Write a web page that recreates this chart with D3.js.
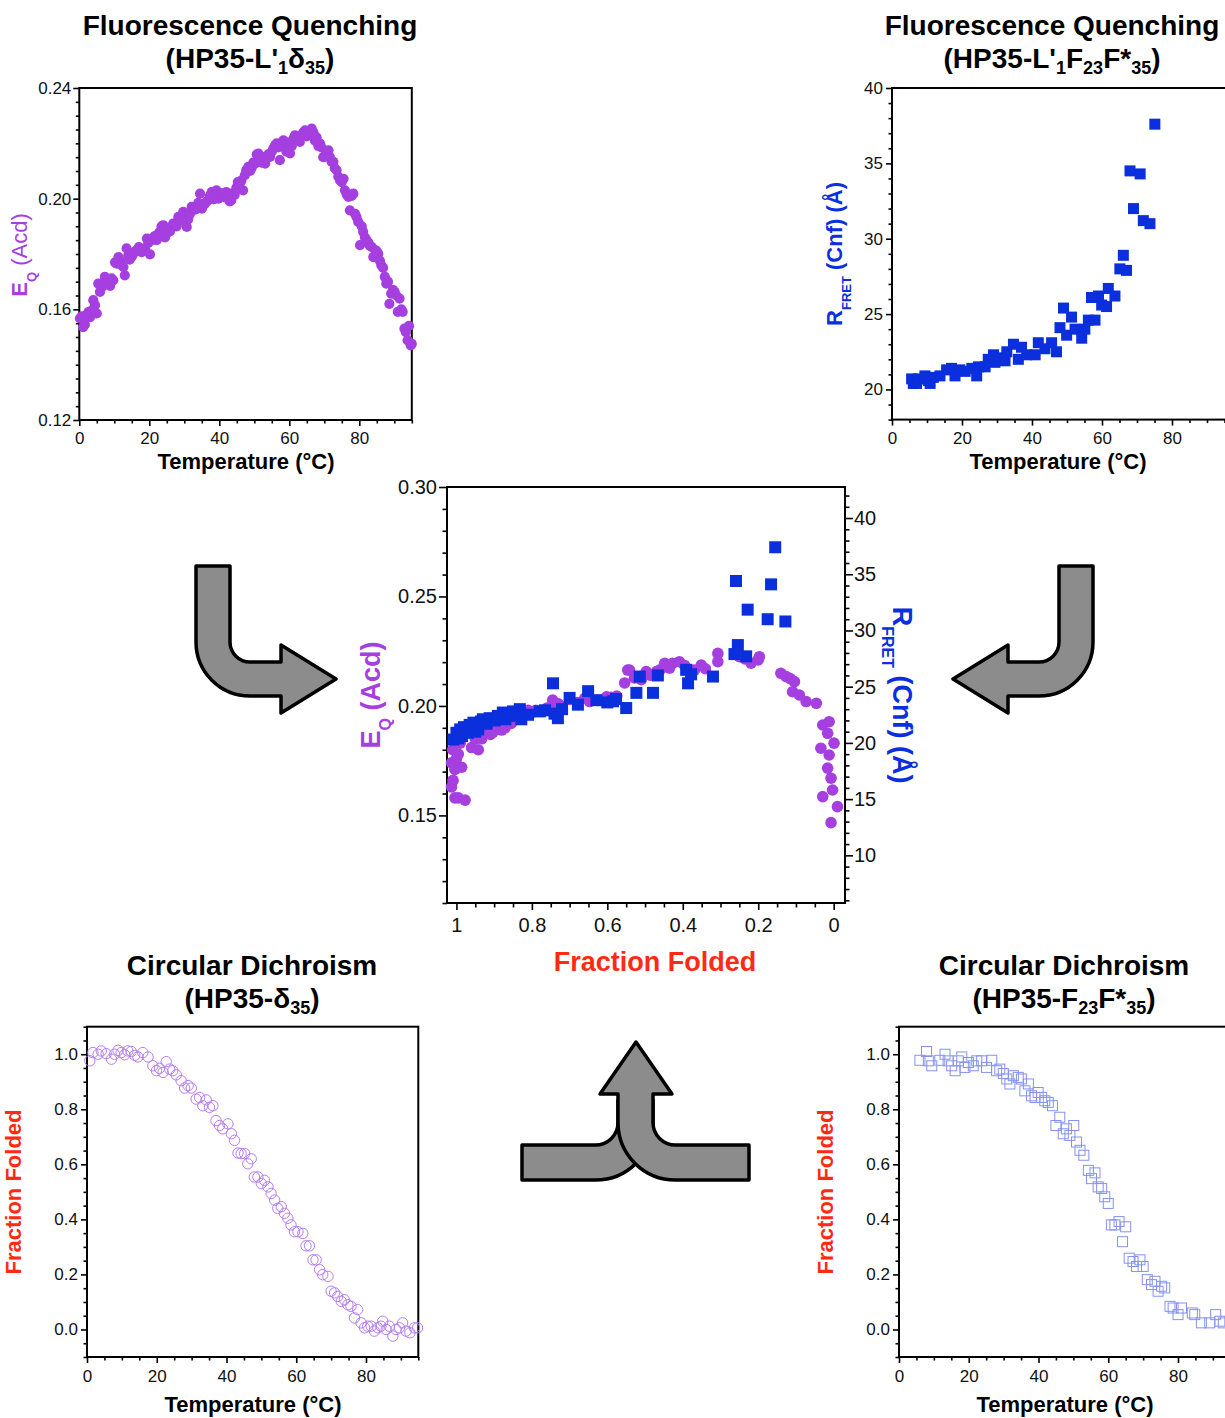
<!DOCTYPE html>
<html>
<head>
<meta charset="utf-8">
<script src="https://cdn.jsdelivr.net/npm/d3@7"></script>
<style>
  body { margin: 0; background: #fff; }
  svg { display: block; font-family: "Liberation Sans", Arial, Helvetica, sans-serif; }
</style>
</head>
<body>
<svg id="fig" width="1225" height="1418"></svg>
<script>
// ---------------- data ----------------
// Acridone quenching efficiency E_Q vs temperature (°C), HP35-L'1δ35
const eqVsTemp = [
  [0.2,.1567],[0.7,.1575],[1.1,.1536],[1.6,.1545],[2.1,.1580],[2.6,.1590],[3.1,.1572],[3.5,.1595],
  [4.0,.1633],[4.5,.1615],[5.0,.1585],[5.4,.1693],[5.9,.1663],[6.4,.1680],[6.9,.1690],[7.3,.1717],
  [7.8,.1700],[8.3,.1693],[8.8,.1685],[9.2,.1712],[9.7,.1705],[10.2,.1770],[10.7,.1765],[11.2,.1789],
  [11.7,.1775],[12.1,.1760],[12.6,.1753],[13.0,.1723],[13.5,.1820],[14.0,.1795],[14.4,.1780],[15.0,.1790],
  [15.5,.1802],[16.0,.1810],[16.4,.1813],[17.0,.1825],[17.4,.1815],[17.8,.1807],[18.3,.1810],[18.8,.1820],
  [19.3,.1856],[19.7,.1840],[20.2,.1799],[20.7,.1850],[21.2,.1860],[21.6,.1865],[22.1,.1850],[22.6,.1874],
  [23.0,.1880],[23.5,.1900],[24.0,.1904],[24.5,.1860],[25.0,.1875],[25.4,.1890],[25.9,.1882],[26.4,.1895],
  [26.8,.1910],[27.3,.1905],[27.8,.1900],[28.3,.1934],[28.8,.1920],[29.2,.1930],[29.7,.1952],[30.2,.1940],
  [30.7,.1898],[31.1,.1925],[31.6,.1945],[32.1,.1970],[32.6,.1965],[33.1,.1960],[33.5,.1973],[34.0,.1985],
  [34.5,.2018],[35.0,.1964],[35.4,.1975],[35.9,.1982],[36.4,.1990],[36.9,.1995],[37.3,.2010],[37.8,.2024],
  [38.3,.1998],[38.8,.2000],[39.2,.2030],[39.7,.2000],[40.2,.2015],[40.6,.2010],[41.1,.2020],[41.6,.2005],
  [42.0,.2024],[42.5,.2010],[43.0,.1990],[43.4,.1994],[43.9,.2020],[44.4,.2014],[44.9,.2040],[45.3,.2060],
  [45.8,.2055],[46.3,.2065],[46.8,.2030],[47.3,.2085],[47.7,.2103],[48.3,.2115],[48.8,.2100],[49.2,.2110],
  [49.7,.2130],[50.2,.2127],[50.7,.2160],[51.2,.2163],[51.6,.2145],[52.1,.2130],[52.6,.2150],[53.1,.2127],
  [53.5,.2150],[54.0,.2160],[54.5,.2151],[55.0,.2170],[55.4,.2180],[55.9,.2193],[56.4,.2200],[56.9,.2185],
  [57.3,.2139],[57.8,.2190],[58.3,.2211],[58.8,.2205],[59.2,.2170],[59.7,.2175],[60.2,.2164],[60.7,.2190],
  [61.1,.2215],[61.6,.2229],[62.1,.2220],[62.6,.2210],[63.0,.2205],[63.5,.2230],[64.0,.2240],[64.5,.2247],
  [64.9,.2225],[65.4,.2230],[65.9,.2235],[66.4,.2253],[66.9,.2240],[67.3,.2210],[67.8,.2222],[68.3,.2190],
  [68.8,.2199],[69.2,.2185],[69.7,.2150],[70.2,.2151],[70.7,.2165],[71.2,.2175],[71.6,.2150],[72.1,.2133],
  [72.6,.2133],[73.0,.2110],[73.5,.2103],[74.0,.2080],[74.5,.2066],[75.0,.2060],[75.5,.2072],[75.9,.2030],
  [76.4,.2015],[76.9,.2006],[77.3,.1958],[77.8,.2010],[78.3,.2018],[78.8,.1945],[79.2,.1934],[79.7,.1916],
  [80.2,.1832],[80.7,.1900],[81.1,.1880],[81.6,.1860],[82.1,.1850],[82.6,.1840],[83.0,.1830],[83.5,.1826],
  [84.0,.1789],[84.5,.1815],[85.0,.1810],[85.4,.1801],[85.9,.1775],[86.3,.1759],[86.8,.1750],[87.3,.1717],
  [87.7,.1693],[88.2,.1700],[88.6,.1620],[89.1,.1657],[89.6,.1670],[90.1,.1663],[90.6,.1650],[91.0,.1591],
  [91.5,.1639],[92.0,.1600],[92.4,.1591],[92.9,.1530],[93.3,.1518],[93.8,.1488],[94.2,.1540],[94.7,.1470],
  [95.0,.1475]
];

// FRET distance R (Å) vs temperature (°C), HP35-L'1F23F*35
const rFretVsTemp = [
  [5.6,20.7],[6.1,20.4],[7.0,20.4],[7.5,20.7],[9.4,20.9],[10.4,20.6],[10.9,20.4],[11.8,20.8],
  [13.7,20.9],[15.6,21.3],[17.0,21.4],[18.0,20.9],[19.4,21.3],[20.9,21.2],[22.8,21.4],[24.2,20.9],
  [24.7,21.5],[26.6,21.5],[27.5,22.0],[29.0,22.3],[29.4,21.8],[30.9,22.1],[32.3,21.9],[32.8,22.5],
  [34.7,23.0],[36.1,22.0],[37.0,22.8],[38.5,22.3],[40.9,22.3],[41.8,23.1],[43.7,22.7],[45.6,23.1],
  [47.0,22.5],[48.0,24.1],[49.0,25.4],[49.9,23.6],[51.3,24.8],[52.3,24.0],[54.2,23.4],[55.1,24.0],
  [56.1,24.6],[57.0,26.1],[58.0,24.6],[59.0,26.2],[59.9,25.6],[61.3,25.5],[61.8,26.7],[63.7,26.2],
  [65.1,28.0],[66.1,28.9],[67.0,27.9],[68.0,34.5],[69.0,32.0],[70.9,34.3],[71.8,31.2],[73.7,31.0],
  [75.1,37.6]
];

// E_Q vs fraction folded
const eqVsFolded = [
  [1.013,.174],[1.009,.166],[1.013,.163],[1.004,.158],[0.995,.158],[0.977,.157],[0.986,.172],[1.004,.171],
  [1.000,.176],[0.995,.178],[1.010,.180],[0.990,.183],[1.005,.185],[0.998,.188],[0.985,.186],[0.970,.188],
  [0.960,.181],[0.942,.180],[0.950,.185],[0.933,.185],[0.940,.189],[0.925,.190],[0.910,.187],[0.903,.188],
  [0.895,.191],[0.880,.189],[0.871,.190],[0.865,.193],[0.855,.192],[0.845,.1936],[0.835,.195],[0.825,.196],
  [0.810,.198],[0.800,.197],[0.790,.198],[0.760,.199],[0.745,.2027],[0.740,.200],[0.730,.201],[0.720,.1995],
  [0.700,.203],[0.680,.2015],[0.660,.2035],[0.647,.202],[0.625,.2025],[0.602,.2042],[0.590,.204],[0.575,.2045],
  [0.554,.2105],[0.546,.2164],[0.541,.2164],[0.528,.2128],[0.510,.212],[0.497,.2157],[0.485,.214],[0.470,.2157],
  [0.460,.2165],[0.448,.2195],[0.435,.2173],[0.427,.2195],[0.409,.2202],[0.395,.2185],[0.380,.2165],[0.369,.2164],
  [0.351,.2187],[0.340,.2170],[0.307,.2240],[0.307,.2202],[0.250,.2225],[0.235,.2215],[0.219,.2195],[0.200,.2210],
  [0.197,.2225],[0.140,.2149],[0.126,.2134],[0.115,.2125],[0.104,.2111],[0.109,.2065],[0.091,.2050],[0.073,.2020],
  [0.046,.2012],[0.029,.1913],[0.012,.1928],[0.016,.1875],[-0.001,.1830],[0.034,.1807],[0.012,.1776],[0.016,.1716],
  [0.007,.1670],[0.003,.1616],[0.029,.1586],[-0.010,.1540],[0.007,.1467]
];

// R_FRET vs fraction folded
const rFretVsFolded = [
  [1.008,20.3],[1.000,20.9],[0.995,20.4],[0.990,21.2],[0.985,20.6],[0.980,21.4],[0.970,20.9],[0.965,21.6],
  [0.955,21.8],[0.950,21.0],[0.942,21.2],[0.935,21.9],[0.930,22.1],[0.920,21.7],[0.912,22.2],[0.899,22.0],
  [0.890,22.4],[0.877,22.7],[0.870,22.1],[0.859,22.4],[0.850,22.8],[0.840,22.5],[0.832,23.0],[0.828,22.1],
  [0.810,22.5],[0.779,22.8],[0.765,22.9],[0.744,25.3],[0.740,22.6],[0.731,22.2],[0.720,23.0],[0.700,24.0],
  [0.678,23.4],[0.651,24.6],[0.629,23.8],[0.600,23.6],[0.585,23.7],[0.577,23.9],[0.550,23.1],[0.523,24.45],
  [0.514,25.9],[0.479,24.45],[0.466,26.0],[0.391,26.5],[0.386,25.3],[0.378,26.1],[0.320,25.9],[0.263,27.9],
  [0.254,28.7],[0.259,34.4],[0.232,27.7],[0.228,31.85],[0.175,31.0],[0.166,34.1],[0.155,37.4],[0.128,30.8]
];

// Circular dichroism: fraction folded vs temperature, HP35-δ35
const cdDelta = [
  [0.8,.976],[1.7,1.006],[3.2,1.0],[4.1,1.012],[5.5,1.002],[7.0,.982],[7.9,1.0],[8.9,1.014],[9.8,1.006],
  [10.8,.998],[11.7,1.012],[12.7,1.01],[13.7,.996],[14.6,.99],[16.0,1.006],[17.5,.99],[18.9,.958],[19.9,.94],
  [20.8,.949],[21.8,.934],[22.7,.973],[23.7,.946],[24.6,.94],[25.6,.925],[27.0,.904],[28.0,.877],[29.0,.886],
  [29.9,.877],[31.3,.837],[32.3,.843],[33.2,.813],[34.2,.834],[35.1,.807],[36.1,.813],[37.0,.759],[38.0,.741],
  [38.9,.729],[40.4,.747],[41.4,.711],[42.3,.687],[43.3,.641],[44.2,.639],[45.2,.639],[46.1,.602],[47.1,.62],
  [48.0,.554],[49.0,.554],[50.0,.53],[50.9,.542],[51.9,.518],[52.8,.494],[53.8,.47],[54.7,.44],[55.7,.446],
  [56.6,.422],[57.6,.404],[58.5,.38],[59.5,.355],[60.5,.355],[61.9,.349],[62.8,.304],[63.8,.304],[64.8,.253],
  [65.7,.253],[66.7,.217],[67.6,.199],[69.1,.193],[70.0,.139],[71.0,.133],[71.9,.12],[72.9,.102],[73.8,.108],
  [74.8,.09],[75.7,.084],[76.7,.042],[77.6,.072],[78.6,.024],[79.6,.006],[80.5,.012],[81.5,.012],[82.4,-.006],
  [83.4,.006],[84.3,.012],[84.8,.03],[85.8,0],[86.7,.012],[87.7,-.024],[88.6,0],[89.6,.006],[90.5,.024],
  [91.5,-.006],[92.6,-.012],[93.9,.006],[94.8,.006]
];

// Circular dichroism: fraction folded vs temperature, HP35-F23F*35
const cdF23F35 = [
  [6.0,.978],[7.9,1.01],[8.4,.976],[9.4,.958],[11.7,.978],[13.2,1.0],[14.1,.976],[15.1,.958],[16.1,.94],
  [17.0,.976],[18.0,.99],[18.9,.952],[19.9,.97],[21.3,.958],[22.3,.976],[23.7,.976],[25.1,.952],[26.6,.978],
  [28.0,.94],[28.9,.946],[29.9,.93],[30.9,.91],[31.8,.892],[32.8,.922],[34.2,.916],[35.1,.91],[36.1,.867],
  [37.1,.892],[38.0,.849],[39.0,.843],[39.9,.861],[40.9,.843],[41.8,.831],[42.8,.825],[44.0,.813],[45.0,.741],
  [46.1,.771],[47.1,.711],[48.0,.729],[49.0,.705],[50.1,.741],[50.9,.681],[51.9,.651],[53.0,.633],[54.3,.578],
  [55.2,.548],[56.2,.569],[57.1,.518],[58.1,.512],[59.0,.482],[60.0,.458],[60.9,.38],[61.9,.38],[63.1,.392],
  [64.1,.319],[65.0,.373],[66.0,.259],[67.1,.247],[68.1,.229],[69.1,.253],[70.0,.229],[71.2,.181],[72.4,.163],
  [73.4,.175],[74.3,.139],[75.3,.157],[76.2,.151],[77.7,.084],[78.6,.078],[80.0,.054],[81.0,.078],[84.1,.06],
  [84.8,.054],[86.7,.024],[89.1,.024],[90.8,.054],[92.0,.03],[93.0,.024]
];

// tick values and labels
const tempTicks = [0, 20, 40, 60, 80];
const tempTickLabels = ["0", "20", "40", "60", "80"];
const eqTicksTop = [0.12, 0.16, 0.20, 0.24];
const eqTickLabelsTop = ["0.12", "0.16", "0.20", "0.24"];
const rTicksTop = [20, 25, 30, 35, 40];
const rTickLabelsTop = ["20", "25", "30", "35", "40"];
const ffTicks = [0, 0.2, 0.4, 0.6, 0.8, 1.0];
const ffTickLabels = ["0.0", "0.2", "0.4", "0.6", "0.8", "1.0"];
const eqTicksCenter = [0.15, 0.20, 0.25, 0.30];
const eqTickLabelsCenter = ["0.15", "0.20", "0.25", "0.30"];
const rTicksCenter = [10, 15, 20, 25, 30, 35, 40];
const rTickLabelsCenter = ["10", "15", "20", "25", "30", "35", "40"];
const foldedTicksCenter = [1, 0.8, 0.6, 0.4, 0.2, 0];
const foldedTickLabelsCenter = ["1", "0.8", "0.6", "0.4", "0.2", "0"];

// text
const purple = "#a53fdf", blue = "#0b2fdc", red = "#ff2a14";
const titleFQ = "Fluorescence Quenching";
const titleCD = "Circular Dichroism";
const subtitleTL = [{t: "(HP35-L'"}, {t: "1", sub: true}, {t: "δ"}, {t: "35", sub: true}, {t: ")"}];
const subtitleTR = [{t: "(HP35-L'"}, {t: "1", sub: true}, {t: "F"}, {t: "23", sub: true}, {t: "F*"}, {t: "35", sub: true}, {t: ")"}];
const subtitleBL = [{t: "(HP35-"}, {t: "δ"}, {t: "35", sub: true}, {t: ")"}];
const subtitleBR = [{t: "(HP35-F"}, {t: "23", sub: true}, {t: "F*"}, {t: "35", sub: true}, {t: ")"}];
const tempLabel = "Temperature (°C)";
const foldedLabel = "Fraction Folded";

// ---------------- helpers ----------------
const svg = d3.select("#fig");
const FONT = "'Liberation Sans', Arial, Helvetica, sans-serif";

function richText(parent, x, y, parts, o) {
  const t = parent.append("text").attr("x", x).attr("y", y)
    .attr("text-anchor", o.anchor || "middle")
    .attr("font-size", o.size)
    .attr("font-weight", o.weight || "bold")
    .attr("fill", o.fill || "#000");
  let shift = 0;
  parts.forEach(p => {
    const s = t.append("tspan").text(p.t);
    const target = p.sub ? o.subDy : 0;
    if (target !== shift) { s.attr("dy", target - shift); shift = target; }
    if (p.sub) s.attr("font-size", o.subSize);
    if (p.w) s.attr("font-weight", p.w);
  });
  return t;
}

function rangeTicks(a, b, step) {
  const n = Math.round((b - a) / step);
  return d3.range(n + 1).map(i => +(a + i * step).toFixed(6));
}

function addAxis(g, gen, scale, major, labels, minor, o) {
  const isMajor = v => major.some(m => Math.abs(m - v) < 1e-9);
  const minorAx = d3[gen](scale).tickValues(minor.filter(v => !isMajor(v)))
    .tickSize(o.minorLen).tickFormat("");
  const majorAx = d3[gen](scale).tickValues(major)
    .tickSize(o.majorLen).tickPadding(o.pad).tickFormat((d, i) => labels[i]);
  [minorAx, majorAx].forEach(ax => {
    const a = g.append("g").attr("transform", o.t).call(ax);
    a.select(".domain").remove();
    a.attr("font-family", FONT).attr("font-size", o.fs);
    a.selectAll("line").attr("stroke", "#000").attr("stroke-width", 1.6);
    a.selectAll("text").attr("fill", "#111");
  });
}

function frame(g, x0, y0, x1, y1) {
  g.append("rect").attr("x", x0).attr("y", y0).attr("width", x1 - x0).attr("height", y1 - y0)
    .attr("fill", "none").attr("stroke", "#000").attr("stroke-width", 2);
}

// ---------------- top-left: E_Q vs temperature ----------------
{
  const g = svg.append("g");
  const x = d3.scaleLinear().domain([0, 95]).range([79.3, 411.8]);
  const y = d3.scaleLinear().domain([0.12, 0.24]).range([420, 88]);
  frame(g, 79.3, 88, 411.8, 420);
  addAxis(g, "axisBottom", x, tempTicks, tempTickLabels, rangeTicks(0, 95, 5),
    {t: "translate(0,420)", majorLen: 6, minorLen: 3.5, pad: 6, fs: 17});
  addAxis(g, "axisLeft", y, eqTicksTop, eqTickLabelsTop, rangeTicks(0.12, 0.24, 0.005),
    {t: "translate(79.3,0)", majorLen: 6, minorLen: 3.5, pad: 2, fs: 17});
  g.selectAll("circle.pt").data(eqVsTemp).join("circle")
    .attr("cx", d => x(d[0])).attr("cy", d => y(d[1])).attr("r", 5.1).attr("fill", purple);
  g.append("text").attr("x", 250).attr("y", 35).attr("text-anchor", "middle")
    .attr("font-size", 28).attr("font-weight", "bold").text(titleFQ);
  richText(g, 250, 68, subtitleTL, {size: 28, subSize: 18, subDy: 6});
  g.append("text").attr("x", 246).attr("y", 469).attr("text-anchor", "middle")
    .attr("font-size", 22).attr("font-weight", "bold").text(tempLabel);
  const lg = g.append("g").attr("transform", "translate(27,255) rotate(-90)");
  richText(lg, 0, 0, [{t: "E"}, {t: "Q", sub: true}, {t: " (Acd)", w: "normal"}],
    {size: 22, subSize: 13, subDy: 9, fill: purple});
}

// ---------------- top-right: R_FRET vs temperature ----------------
{
  const g = svg.append("g");
  const x = d3.scaleLinear().domain([0, 80]).range([892, 1172]);
  const y = d3.scaleLinear().domain([18, 40]).range([419.6, 88]);
  frame(g, 892, 88, 1232, 419.6);
  addAxis(g, "axisBottom", x, tempTicks, tempTickLabels, rangeTicks(0, 95, 5),
    {t: "translate(0,419.6)", majorLen: 6, minorLen: 3.5, pad: 6, fs: 17});
  addAxis(g, "axisLeft", y, rTicksTop, rTickLabelsTop, rangeTicks(18, 40, 1),
    {t: "translate(892,0)", majorLen: 6, minorLen: 3.5, pad: 3, fs: 17});
  g.selectAll("rect.pt").data(rFretVsTemp).join("rect")
    .attr("x", d => x(d[0]) - 5.5).attr("y", d => y(d[1]) - 5.5)
    .attr("width", 11).attr("height", 11).attr("fill", blue);
  g.append("text").attr("x", 1052).attr("y", 35).attr("text-anchor", "middle")
    .attr("font-size", 28).attr("font-weight", "bold").text(titleFQ);
  richText(g, 1052, 68, subtitleTR, {size: 28, subSize: 18, subDy: 6});
  g.append("text").attr("x", 1058).attr("y", 469).attr("text-anchor", "middle")
    .attr("font-size", 22).attr("font-weight", "bold").text(tempLabel);
  const lg = g.append("g").attr("transform", "translate(842,254) rotate(-90)");
  richText(lg, 0, 0, [{t: "R"}, {t: "FRET", sub: true}, {t: " (Cnf) (Å)"}],
    {size: 22, subSize: 13, subDy: 9, fill: blue});
}

// ---------------- center: E_Q and R_FRET vs fraction folded ----------------
{
  const g = svg.append("g");
  const x = d3.scaleLinear().domain([1.025, -0.03]).range([447, 845]);
  const yL = d3.scaleLinear().domain([0.11, 0.30]).range([903, 487]);
  const yR = d3.scaleLinear().domain([5.76, 42.76]).range([903, 487]);
  frame(g, 447, 487, 845, 903);
  addAxis(g, "axisBottom", x, foldedTicksCenter, foldedTickLabelsCenter, rangeTicks(0, 1, 0.05),
    {t: "translate(0,903)", majorLen: 7, minorLen: 4.5, pad: 8, fs: 20});
  addAxis(g, "axisLeft", yL, eqTicksCenter, eqTickLabelsCenter, rangeTicks(0.11, 0.30, 0.01),
    {t: "translate(447,0)", majorLen: 8, minorLen: 4.5, pad: 2, fs: 20});
  addAxis(g, "axisRight", yR, rTicksCenter, rTickLabelsCenter, rangeTicks(6, 42, 1),
    {t: "translate(845,0)", majorLen: 8, minorLen: 4.5, pad: 1, fs: 20});
  g.selectAll("circle.pt").data(eqVsFolded).join("circle")
    .attr("cx", d => x(d[0])).attr("cy", d => yL(d[1])).attr("r", 5.8).attr("fill", purple);
  g.selectAll("rect.pt").data(rFretVsFolded).join("rect")
    .attr("x", d => x(d[0]) - 6).attr("y", d => yR(d[1]) - 6)
    .attr("width", 12).attr("height", 12).attr("fill", blue);
  g.append("text").attr("x", 655).attr("y", 971).attr("text-anchor", "middle")
    .attr("font-size", 27).attr("font-weight", "bold").attr("fill", red).text(foldedLabel);
  const lg = g.append("g").attr("transform", "translate(380,695) rotate(-90)");
  richText(lg, 0, 0, [{t: "E"}, {t: "Q", sub: true}, {t: " (Acd)"}],
    {size: 27, subSize: 16, subDy: 11, fill: purple});
  const rg = g.append("g").attr("transform", "translate(893,695) rotate(90)");
  richText(rg, 0, 0, [{t: "R"}, {t: "FRET", sub: true}, {t: " (Cnf) (Å)"}],
    {size: 27, subSize: 16, subDy: 11, fill: blue});
}

// ---------------- bottom-left: CD of HP35-δ35 ----------------
{
  const g = svg.append("g");
  const x = d3.scaleLinear().domain([0, 95]).range([87, 418.3]);
  const y = d3.scaleLinear().domain([-0.1, 1.1]).range([1357, 1026.7]);
  frame(g, 87, 1026.7, 418.3, 1357);
  addAxis(g, "axisBottom", x, tempTicks, tempTickLabels, rangeTicks(0, 95, 5),
    {t: "translate(0,1357)", majorLen: 6, minorLen: 3.5, pad: 7, fs: 17});
  addAxis(g, "axisLeft", y, ffTicks, ffTickLabels, rangeTicks(-0.1, 1.1, 0.05),
    {t: "translate(87,0)", majorLen: 6, minorLen: 3.5, pad: 3, fs: 17});
  g.selectAll("circle.pt").data(cdDelta).join("circle")
    .attr("cx", d => x(d[0])).attr("cy", d => y(d[1])).attr("r", 5.2)
    .attr("fill", "none").attr("stroke", "#b77df1").attr("stroke-width", 1);
  g.append("text").attr("x", 252).attr("y", 975).attr("text-anchor", "middle")
    .attr("font-size", 28).attr("font-weight", "bold").text(titleCD);
  richText(g, 252, 1008, subtitleBL, {size: 28, subSize: 18, subDy: 6});
  g.append("text").attr("x", 253).attr("y", 1412).attr("text-anchor", "middle")
    .attr("font-size", 22).attr("font-weight", "bold").text(tempLabel);
  g.append("text").attr("transform", "translate(21,1192) rotate(-90)").attr("text-anchor", "middle")
    .attr("font-size", 22).attr("font-weight", "bold").attr("fill", red).text(foldedLabel);
}

// ---------------- bottom-right: CD of HP35-F23F*35 ----------------
{
  const g = svg.append("g");
  const x = d3.scaleLinear().domain([0, 80]).range([899, 1178]);
  const y = d3.scaleLinear().domain([-0.1, 1.1]).range([1357, 1026.7]);
  frame(g, 899, 1026.7, 1234, 1357);
  addAxis(g, "axisBottom", x, tempTicks, tempTickLabels, rangeTicks(0, 95, 5),
    {t: "translate(0,1357)", majorLen: 6, minorLen: 3.5, pad: 7, fs: 17});
  addAxis(g, "axisLeft", y, ffTicks, ffTickLabels, rangeTicks(-0.1, 1.1, 0.05),
    {t: "translate(899,0)", majorLen: 6, minorLen: 3.5, pad: 3, fs: 17});
  g.selectAll("rect.pt").data(cdF23F35).join("rect")
    .attr("x", d => x(d[0]) - 5).attr("y", d => y(d[1]) - 5)
    .attr("width", 10).attr("height", 10)
    .attr("fill", "none").attr("stroke", "#8592f0").attr("stroke-width", 1);
  g.append("text").attr("x", 1064).attr("y", 975).attr("text-anchor", "middle")
    .attr("font-size", 28).attr("font-weight", "bold").text(titleCD);
  richText(g, 1064, 1008, subtitleBR, {size: 28, subSize: 18, subDy: 6});
  g.append("text").attr("x", 1065).attr("y", 1412).attr("text-anchor", "middle")
    .attr("font-size", 22).attr("font-weight", "bold").text(tempLabel);
  g.append("text").attr("transform", "translate(833,1192) rotate(-90)").attr("text-anchor", "middle")
    .attr("font-size", 22).attr("font-weight", "bold").attr("fill", red).text(foldedLabel);
}

// ---------------- connecting arrows ----------------
{
  const g = svg.append("g").attr("fill", "#8c8c8c").attr("stroke", "#000")
    .attr("stroke-width", 3.5).attr("stroke-linejoin", "round");
  // left: down then right into the central plot
  g.append("path").attr("d",
    "M196,566 L230,566 L230,642 A20,20 0 0 0 250,662 L281,662 L281,645 L336,679 " +
    "L281,713 L281,696 L250,696 A54,54 0 0 1 196,642 Z");
  // right: down then left into the central plot
  g.append("path").attr("d",
    "M1093,566 L1059,566 L1059,642 A20,20 0 0 1 1039,662 L1008,662 L1008,645 L953,679 " +
    "L1008,713 L1008,696 L1039,696 A54,54 0 0 0 1093,642 Z");
  // bottom: two branches merging upward
  g.append("path").attr("d",
    "M522,1145 L595.5,1145 A22.5,22.5 0 0 0 618,1122.5 L618,1100 L653,1100 L653,1122.5 " +
    "A57.5,57.5 0 0 1 595.5,1180 L522,1180 Z");
  g.append("path").attr("d",
    "M749,1145 L675.5,1145 A22.5,22.5 0 0 1 653,1122.5 L653,1094 L672,1094 L636,1042 " +
    "L600,1094 L618,1094 L618,1122.5 A57.5,57.5 0 0 0 675.5,1180 L749,1180 Z");
}
</script>
</body>
</html>
